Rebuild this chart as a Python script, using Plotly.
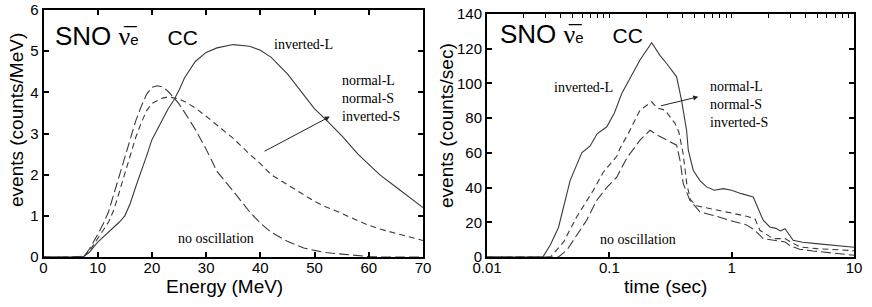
import math
import plotly.graph_objects as go

# ---------------- Left panel: energy spectrum ----------------
energy = [0, 5, 7.5, 8.5, 10, 11, 12, 13, 14, 15, 16, 17, 18, 19, 20, 21, 22, 23, 24, 25, 26,
          28, 30, 32, 35, 38, 40, 42, 45, 48, 50, 52, 55, 58, 60, 62, 65, 68, 70]
e_inverted_L = [0, 0, 0.02, 0.12, 0.36, 0.48, 0.6, 0.72, 0.85, 1.0, 1.3, 1.7, 2.05, 2.45, 2.85,
                3.1, 3.35, 3.6, 3.8, 4.05, 4.35, 4.75, 4.97, 5.08, 5.16, 5.12, 5.02, 4.85, 4.45,
                3.95, 3.6, 3.35, 2.95, 2.5, 2.25, 2.0, 1.7, 1.4, 1.2]
e_normal = [0, 0, 0.02, 0.15, 0.45, 0.65, 0.85, 1.15, 1.6, 2.05, 2.5, 2.9, 3.25, 3.55, 3.73,
            3.8, 3.86, 3.89, 3.87, 3.84, 3.78, 3.62, 3.42, 3.2, 2.88, 2.5, 2.27, 2.0, 1.75,
            1.5, 1.35, 1.22, 1.06, 0.88, 0.77, 0.68, 0.57, 0.47, 0.4]
e_no_osc = [0, 0, 0.02, 0.2, 0.55, 0.8, 1.1, 1.55, 1.95, 2.45, 2.9, 3.3, 3.65, 3.95, 4.12,
            4.16, 4.13, 4.02, 3.88, 3.72, 3.52, 3.1, 2.62, 2.08, 1.6, 1.1, 0.82, 0.6, 0.38,
            0.22, 0.16, 0.11, 0.07, 0.03, 0.01, 0.0, 0.0, 0.0, 0.0]
e_xticks = [0, 10, 20, 30, 40, 50, 60, 70]
e_yticks = [0, 1, 2, 3, 4, 5, 6]

# ---------------- Right panel: time profile ----------------
t_inverted_L = [0.01, 0.0286, 0.033, 0.0384, 0.0478, 0.054, 0.0595, 0.0697, 0.0795, 0.0953, 0.11,
                0.126, 0.15, 0.178, 0.222, 0.26, 0.294, 0.355, 0.39, 0.428, 0.442, 0.485, 0.55,
                0.624, 0.72, 0.853, 1.0, 1.2, 1.5, 1.65, 1.81, 2.05, 2.3, 2.5, 2.73, 3.18, 3.8,
                4.92, 6.5, 9.2, 10]
r_inverted_L = [0, 0, 7, 17, 44, 53, 60, 64, 71, 75, 83, 94, 104, 113.5, 123.5, 116, 111.5, 103.8,
                90, 73, 61.5, 50, 44, 40.4, 38.5, 39.4, 38.5, 36.5, 34.6, 28, 21.2, 17.3, 16.5,
                15, 16.3, 9.6, 8.5, 7.7, 7, 5.8, 5.6]
t_normal = [0.01, 0.033, 0.0423, 0.054, 0.074, 0.0895, 0.115, 0.122, 0.143, 0.178, 0.222, 0.245,
            0.285, 0.344, 0.37, 0.40, 0.43, 0.46, 0.516, 0.664, 0.97, 1.32, 1.55, 1.70, 2.18,
            2.73, 3.6, 5.0, 9.2, 10]
r_normal = [0, 0, 8.7, 23, 38.5, 49, 58, 62.5, 71.2, 84.6, 89.4, 86, 84.6, 77, 72, 60, 42, 33,
            29.5, 28, 25.5, 23.5, 22, 15.4, 10.6, 10.6, 5.8, 4.8, 3.8, 3.6]
t_no_osc = [0.01, 0.0384, 0.045, 0.051, 0.065, 0.079, 0.095, 0.115, 0.139, 0.178, 0.215, 0.25,
            0.294, 0.355, 0.38, 0.402, 0.455, 0.55, 0.75, 0.97, 1.32, 1.55, 1.81, 2.2, 2.73,
            3.0, 3.6, 4.6, 6.3, 9.2, 10]
r_no_osc = [0, 0, 4, 9.6, 21, 32.7, 40, 46, 57, 67.3, 73, 70, 67.3, 64.4, 55, 42.3, 32.7, 26,
            23.5, 21, 18.5, 15.4, 10.6, 9.5, 8.7, 6.5, 4.5, 3.5, 2.5, 1.2, 1.0]
t_xticks = [0.01, 0.1, 1, 10]
t_xticktext = ["0.01", "0.1", "1", "10"]
t_yticks = [0, 20, 40, 60, 80, 100, 120, 140]

# ---------------- Styles ----------------
W, H = 872, 307
CURVE = "#3a3a3a"
SANS = "Liberation Sans, Arial, sans-serif"
SERIF = "Liberation Serif, Times New Roman, serif"

fig = go.Figure()
fig.add_trace(go.Scatter(x=energy, y=e_inverted_L, mode="lines",
                         line=dict(color=CURVE, width=1.1), xaxis="x", yaxis="y"))
fig.add_trace(go.Scatter(x=energy, y=e_normal, mode="lines",
                         line=dict(color=CURVE, width=1.1, dash="6px,4px"), xaxis="x", yaxis="y"))
fig.add_trace(go.Scatter(x=energy, y=e_no_osc, mode="lines",
                         line=dict(color=CURVE, width=1.1, dash="10px,4px"), xaxis="x", yaxis="y"))
fig.add_trace(go.Scatter(x=t_inverted_L, y=r_inverted_L, mode="lines",
                         line=dict(color=CURVE, width=1.1), xaxis="x3", yaxis="y2"))
fig.add_trace(go.Scatter(x=t_normal, y=r_normal, mode="lines",
                         line=dict(color=CURVE, width=1.1, dash="6px,4px"), xaxis="x2", yaxis="y2"))
fig.add_trace(go.Scatter(x=t_no_osc, y=r_no_osc, mode="lines",
                         line=dict(color=CURVE, width=1.1, dash="10px,4px"), xaxis="x2", yaxis="y2"))


def px_x(p):
    return p / W


def px_y(p):
    return 1 - p / H


axis_common = dict(showgrid=False, zeroline=False, showline=True, linecolor="black", linewidth=2,
                   ticks="inside", ticklen=5, tickwidth=1.5, tickcolor="black", mirror="ticks",
                   tickfont=dict(family=SANS, size=15, color="black"), automargin=False,
                   ticklabeloverflow="allow")
xaxis_extra = dict(ticklabelstandoff=-4)

fig.update_layout(
    width=W, height=H, margin=dict(l=0, r=0, t=0, b=0),
    paper_bgcolor="white", plot_bgcolor="white", showlegend=False,
    xaxis=dict(domain=[px_x(43.5), px_x(423)], range=[0, 70], tickvals=e_xticks,
               anchor="y", **axis_common, **xaxis_extra),
    yaxis=dict(domain=[px_y(257), px_y(10)], range=[0, 6], tickvals=e_yticks,
               anchor="x", **axis_common),
    xaxis2=dict(domain=[px_x(487), px_x(854)], type="log", range=[-2, 1], tickvals=t_xticks,
                ticktext=t_xticktext, anchor="y2",
                **{**axis_common, "mirror": True}, **xaxis_extra),
    xaxis3=dict(overlaying="x2", side="top", type="log", range=[-2, 1], anchor="y2",
                dtick="D1", showticklabels=False, showgrid=False, zeroline=False,
                showline=False, ticks="inside", ticklen=4, tickwidth=1.2, tickcolor="black"),
    yaxis2=dict(domain=[px_y(257), px_y(14)], range=[0, 140], tickvals=t_yticks,
                anchor="x2", **axis_common),
)

ann = []
title_font = dict(family=SANS, size=19, color="black")
# axis titles
for txt, xp, yp, ang in [("events (counts/MeV)", 17, 120, -90), ("Energy (MeV)", 225, 286, 0),
                         ("events (counts/sec)", 447, 125, -90), ("time (sec)", 665, 286, 0)]:
    ann.append(dict(text=txt, x=px_x(xp), y=px_y(yp), xref="paper", yref="paper",
                    xanchor="center", yanchor="middle", textangle=ang, showarrow=False,
                    font=title_font))

# panel titles
title_txt = ("SNO <span style='font-family:Liberation Serif'>\u03bd\u0305</span>"
             "<span style='font-size:15px'>e</span>    <span style='font-size:21px'>CC</span>")
for xp, yp in [(53, 36), (498, 34)]:
    ann.append(dict(text=title_txt, x=px_x(xp), y=px_y(yp), xref="paper", yref="paper",
                    xanchor="left", yanchor="middle", showarrow=False,
                    font=dict(family=SANS, size=26, color="black")))

serif_font = dict(family=SERIF, size=14, color="black")
lab_block = "normal-L<br>normal-S<br>inverted-S"
# left panel labels
ann.append(dict(text="inverted-L", x=47.9, y=5.17, xref="x", yref="y", showarrow=False, font=serif_font))
ann.append(dict(text=lab_block, x=54.6, y=3.84, xref="x", yref="y", xanchor="left", align="left",
                showarrow=False, font=serif_font))
ann.append(dict(text="no oscillation", x=31.9, y=0.45, xref="x", yref="y", showarrow=False, font=serif_font))
ann.append(dict(text="", x=52.8, y=3.41, ax=40.5, ay=2.55, xref="x", yref="y", axref="x", ayref="y",
                showarrow=True, arrowhead=2, arrowsize=1, arrowwidth=1, arrowcolor="#222"))
# right panel labels
ann.append(dict(text="inverted-L", x=math.log10(0.0615), y=97.7, xref="x2", yref="y2",
                showarrow=False, font=serif_font))
ann.append(dict(text=lab_block, x=math.log10(0.6435), y=88, xref="x2", yref="y2", xanchor="left",
                align="left", showarrow=False, font=serif_font))
ann.append(dict(text="no oscillation", x=math.log10(0.1727), y=10, xref="x2", yref="y2",
                showarrow=False, font=serif_font))
ann.append(dict(text="", x=math.log10(0.533), y=92.3, ax=math.log10(0.2566), ay=86.9,
                xref="x2", yref="y2", axref="x2", ayref="y2",
                showarrow=True, arrowhead=2, arrowsize=1, arrowwidth=1, arrowcolor="#222"))

fig.update_layout(annotations=ann)
# remove the default 8px page margin so the figure sits at the window's top-left corner
fig.write_html("out.html", config={"displayModeBar": False},
               post_script="document.body.style.margin='0';")
